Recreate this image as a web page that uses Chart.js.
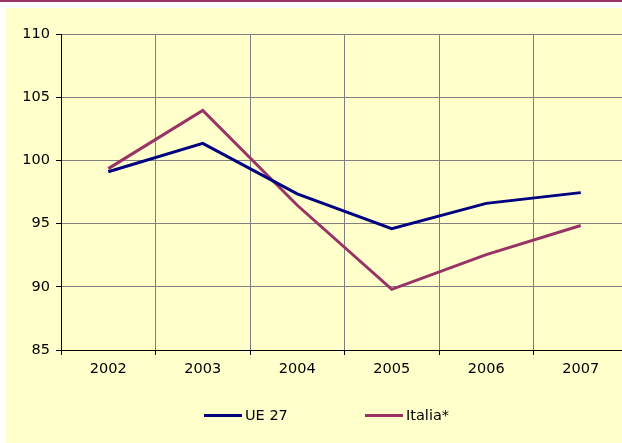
<!DOCTYPE html>
<html>
<head>
<meta charset="utf-8">
<script src="https://cdn.jsdelivr.net/npm/chart.js@4"></script>
<style>
  html, body { margin: 0; padding: 0; background: #ffffff; overflow: hidden; width: 622px; height: 443px; }
  #topbar { position: absolute; left: 0; top: 0; width: 622px; height: 2px; background: #993366; }
  #wrap { position: absolute; left: 6px; top: 8px; width: 616px; height: 435px; overflow: hidden; background: #FFFFCC; }
  #c { position: absolute; left: 0; top: 0; }
  .lg { position: absolute; top: 406px; height: 18px; display: flex; align-items: center; font-family: "DejaVu Sans", Verdana, sans-serif; font-size: 14.5px; color: #000; white-space: nowrap; }
  .sw { width: 38px; height: 3px; margin-right: 3px; }
</style>
</head>
<body>
<div id="topbar"></div>
<div id="wrap"><canvas id="c" width="640" height="435"></canvas></div>
<div id="legend"></div>
<script>
const years = ['2002', '2003', '2004', '2005', '2006', '2007'];
const ue27 = [99.1, 101.35, 97.35, 94.6, 96.6, 97.45];
const italia = [99.35, 103.95, 96.45, 89.8, 92.55, 94.85];
const seriesNames = ['UE 27', 'Italia*'];
const seriesColors = ['#000080', '#993366'];
const legendLefts = [204, 365];

const font = { family: '"DejaVu Sans", Verdana, sans-serif', size: 14.5 };

const htmlLegend = {
  id: 'htmlLegend',
  afterUpdate(chart) {
    const box = document.getElementById('legend');
    box.innerHTML = '';
    const items = Chart.defaults.plugins.legend.labels.generateLabels(chart);
    items.forEach((it, i) => {
      const d = document.createElement('div');
      d.className = 'lg';
      d.style.left = legendLefts[i] + 'px';
      const sw = document.createElement('span');
      sw.className = 'sw';
      sw.style.background = it.strokeStyle;
      const t = document.createElement('span');
      t.textContent = it.text;
      d.appendChild(sw);
      d.appendChild(t);
      box.appendChild(d);
    });
  }
};

new Chart(document.getElementById('c'), {
  type: 'line',
  data: {
    labels: years,
    datasets: [
      { label: seriesNames[0], data: ue27, borderColor: seriesColors[0], backgroundColor: seriesColors[0], borderWidth: 3, pointRadius: 0, tension: 0, fill: false },
      { label: seriesNames[1], data: italia, borderColor: seriesColors[1], backgroundColor: seriesColors[1], borderWidth: 3, pointRadius: 0, tension: 0, fill: false }
    ]
  },
  options: {
    responsive: false,
    animation: false,
    layout: { padding: { top: 26, right: 18, bottom: 63, left: 0 } },
    plugins: { legend: { display: false }, tooltip: { enabled: false } },
    scales: {
      x: {
        type: 'category',
        offset: true,
        grid: { offset: true, color: '#808080', tickColor: '#000000', tickLength: 5, lineWidth: 1 },
        border: { color: '#000000', width: 1 },
        ticks: { font: font, color: '#000000', padding: 6, maxRotation: 0, autoSkip: false },
        afterFit(scale) { scale.height = 30; }
      },
      y: {
        min: 85, max: 110,
        grid: { color: '#808080', tickColor: '#000000', tickLength: 5, lineWidth: 1 },
        border: { color: '#000000', width: 1 },
        ticks: { stepSize: 5, font: font, color: '#000000', padding: 6 },
        afterFit(scale) { scale.width = 55; }
      }
    }
  },
  plugins: [htmlLegend]
});
</script>
</body>
</html>
